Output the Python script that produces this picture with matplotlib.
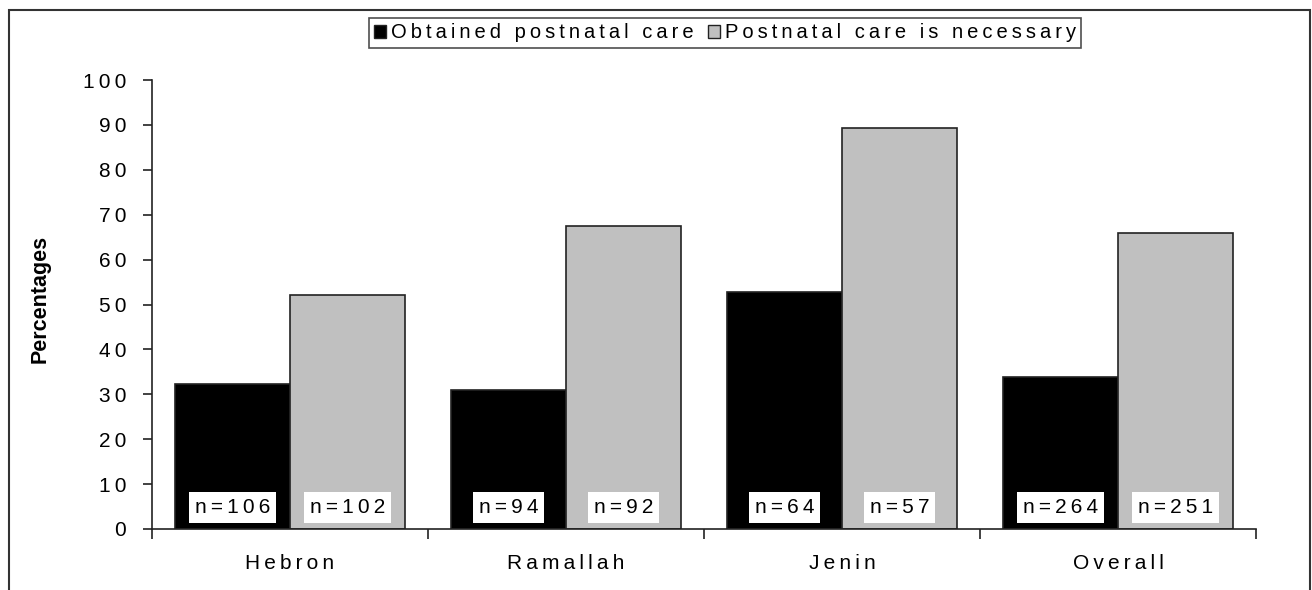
import matplotlib.pyplot as plt
from matplotlib.patches import Rectangle, Patch

plt.rcParams['font.family'] = ['Liberation Sans', 'DejaVu Sans']

regions = ["Hebron", "Ramallah", "Jenin", "Overall"]
obtained = [32.3, 31.0, 52.8, 33.9]
necessary = [52.1, 67.5, 89.2, 66.0]
n_obtained = ["n=106", "n=94", "n=64", "n=264"]
n_necessary = ["n=102", "n=92", "n=57", "n=251"]
y_ticks = [0, 10, 20, 30, 40, 50, 60, 70, 80, 90, 100]
series_names = ["Obtained postnatal care", "Postnatal care is necessary"]


def sp(s):
    # texte espacé comme dans l'original (espace fine entre les lettres)
    return "\u2009".join(s)


fig = plt.figure(figsize=(13.12, 5.9), dpi=100)
ax = fig.add_axes([152 / 1312, 61 / 590, 1104 / 1312, 449 / 590])

# cadre autour de toute la figure
fig.patches.append(Rectangle((9 / 1312, -0.01), 1301 / 1312, 1.0 - 10 / 590 + 0.01,
                             transform=fig.transFigure, fill=False,
                             edgecolor="#333333", linewidth=1.5))

centers = [i + 0.5 for i in range(len(regions))]
w = 0.417
ax.bar([c - w / 2 for c in centers], obtained, width=w, color="black",
       edgecolor="#222222", linewidth=1.2)
ax.bar([c + w / 2 for c in centers], necessary, width=w, color="#c0c0c0",
       edgecolor="#222222", linewidth=1.2)

for c, a, b in zip(centers, n_obtained, n_necessary):
    for x, t in ((c - w / 2, a), (c + w / 2, b)):
        ax.text(x, 4.8, sp(t), ha="center", va="center", fontsize=15,
                bbox=dict(facecolor="white", edgecolor="none", pad=4.3))

ax.set_xlim(0, 4)
ax.set_ylim(0, 100)
ax.set_yticks(y_ticks)
ax.set_yticklabels([sp(str(v)) for v in y_ticks])
ax.set_xticks([0, 1, 2, 3, 4])
ax.set_xticklabels([])
ax.set_xticks(centers, minor=True)
ax.set_xticklabels([sp(r) for r in regions], minor=True, fontsize=15)
ax.tick_params(axis="x", which="minor", length=0, pad=18)
ax.tick_params(axis="x", which="major", length=7, direction="out", width=1.2,
               color="#222222")
ax.tick_params(axis="y", length=6.5, direction="out", width=1.2, labelsize=15,
               pad=12, color="#222222")
for s in ("top", "right"):
    ax.spines[s].set_visible(False)
for s in ("left", "bottom"):
    ax.spines[s].set_linewidth(1.2)
    ax.spines[s].set_color("#222222")

fig.text(40 / 1312, 1 - 299 / 590, "Percentages", rotation=90, ha="center",
         va="center", fontsize=15.5, fontweight="bold")

handles = [Patch(facecolor="black", edgecolor="#222222"),
           Patch(facecolor="#c0c0c0", edgecolor="#222222")]
leg = fig.legend(handles, [sp(s) for s in series_names],
                 loc="center", bbox_to_anchor=(725 / 1312, 1 - 33 / 590), ncol=2,
                 fontsize=14.5, frameon=True, fancybox=False, handlelength=0.6,
                 handleheight=0.6, handletextpad=0.25, columnspacing=0.7,
                 borderpad=0.25, borderaxespad=0)
leg.get_frame().set_edgecolor("#222222")
leg.get_frame().set_linewidth(1.2)

fig.savefig("out.png", dpi=100)
